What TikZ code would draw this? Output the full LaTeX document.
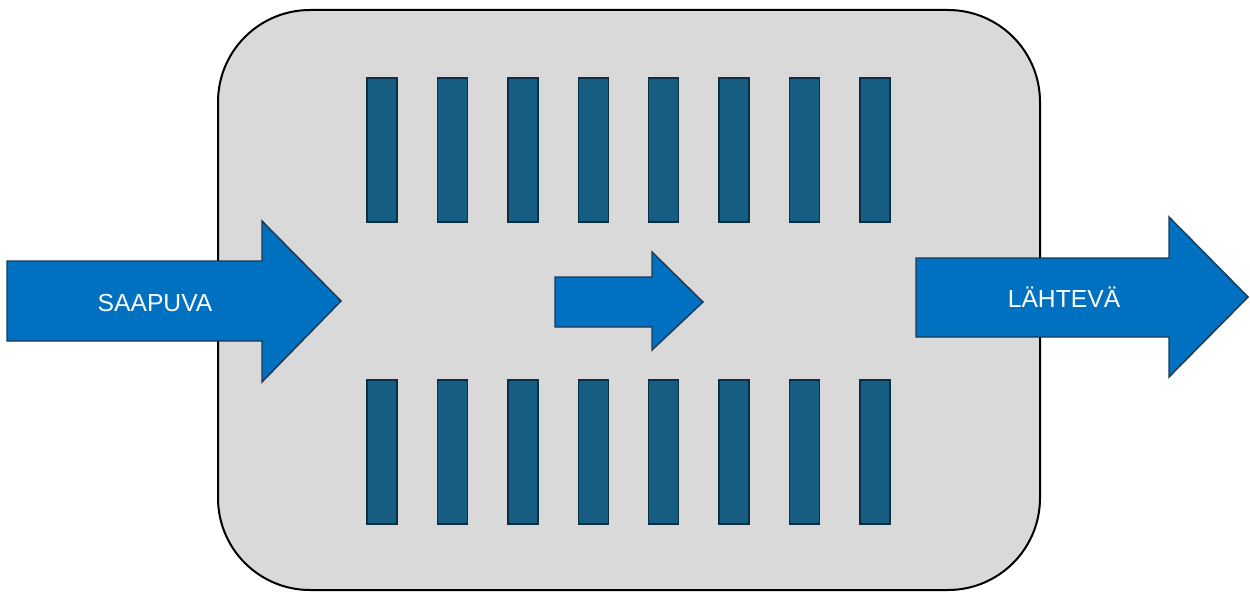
\documentclass[tikz,border=0pt]{standalone}
\usepackage{fontspec}
\setmainfont{Liberation Sans}
\definecolor{boxgray}{HTML}{D9D9D9}
\definecolor{barblue}{HTML}{155E81}
\definecolor{barline}{HTML}{0C2E44}
\definecolor{arrowblue}{HTML}{0070C0}
\definecolor{arrowline}{HTML}{1B3A57}
\tikzset{
  slot/.style={fill=barblue,draw=barline,line width=1.1pt},
  bigarrow/.style={fill=arrowblue,draw=arrowline,line width=1.1pt,line join=miter},
  arrowtext/.style={text=white,font=\fontsize{18.5}{20}\selectfont,inner sep=0pt,anchor=base}
}
\begin{document}
\begin{tikzpicture}[x=0.75pt,y=-0.75pt]
        \useasboundingbox (0,0) rectangle (1250,592);
        \draw[fill=boxgray,line width=1.5pt,rounded corners=69pt] (218,10) rectangle (1040,590);
        \foreach \i in {0,...,7}{
          \draw[slot] (367+70.43*\i,78) rectangle ++(30,144);
          \draw[slot] (367+70.43*\i,380) rectangle ++(30,144);
        }
        \draw[bigarrow] (7,261) -- (262,261) -- (262,221) -- (341,301) -- (262,382) -- (262,341) -- (7,341) -- cycle;
        \draw[bigarrow] (555,277) -- (652,277) -- (652,252) -- (703,302) -- (652,350) -- (652,327) -- (555,327) -- cycle;
        \draw[bigarrow] (916,258) -- (1169,258) -- (1169,217) -- (1248,297) -- (1169,377) -- (1169,337) -- (916,337) -- cycle;
        \node[arrowtext] (saapuva) at (155,311) {SAAPUVA};
        \node[arrowtext] (lahteva) at (1064,307) {LÄHTEVÄ};
\end{tikzpicture}
\end{document}
